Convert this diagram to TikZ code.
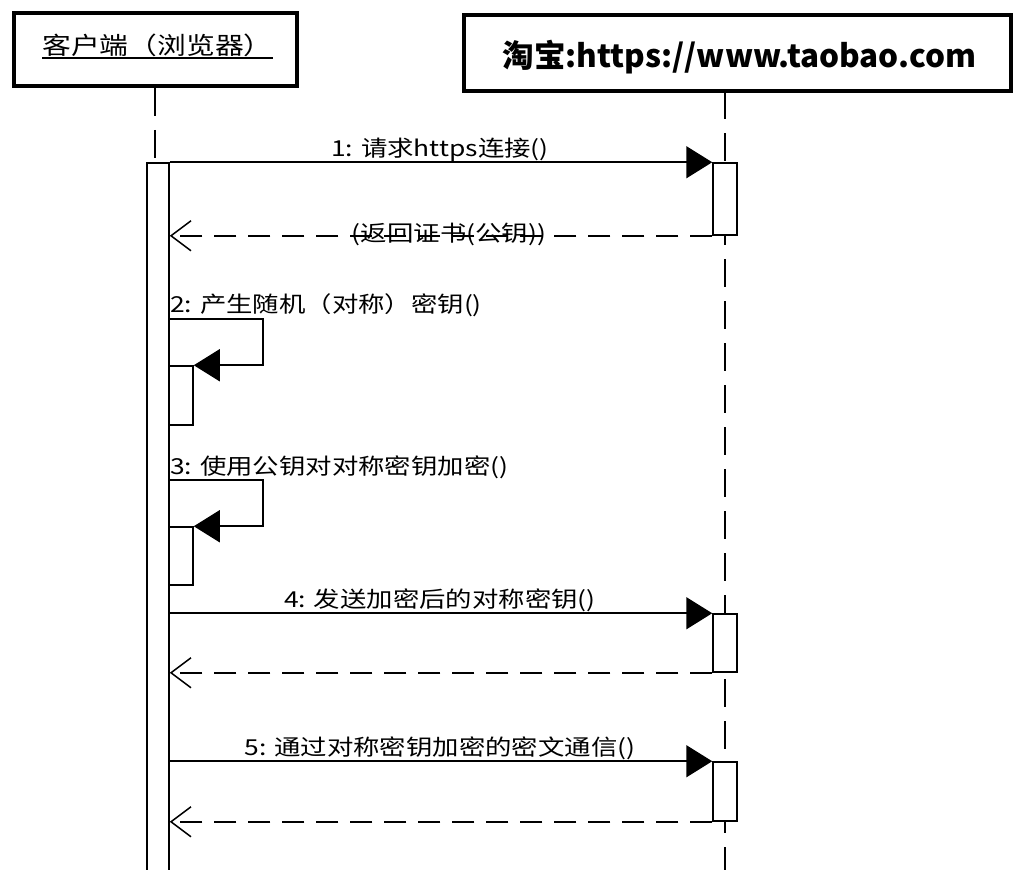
\documentclass[tikz,border=0pt]{standalone}
\usepackage{fontspec}
\usetikzlibrary{arrows.meta}
\newfontfamily\msgfont[FakeStretch=1.2]{Noto Sans CJK SC}
\newfontfamily\headfont{Noto Sans CJK SC}

\begin{document}
\begin{tikzpicture}[x=1pt,y=-1pt,every node/.style={text centered,inner sep=0pt},
  head/.style={draw,line width=3.5pt,fill=white},
  act/.style={draw,line width=1.5pt,fill=white,minimum width=24pt},
  life/.style={line width=1.5pt,dash pattern=on 28pt off 14pt},
  msg/.style={line width=1.6pt,-{Triangle[length=26pt,width=32pt]}},
  ret/.style={line width=1.5pt,dash pattern=on 22pt off 12pt,-{Straight Barb[length=20pt,width=30pt]}},
  lbl/.style={font=\msgfont\fontsize{22}{26}\selectfont}]

\useasboundingbox (0,0) rectangle (1018,870);

\node [head,minimum width=283pt,minimum height=73pt] (client) at (155.5,49.5) {};
\node [lbl,anchor=base,font=\msgfont\fontsize{24}{28}\selectfont] (clientname) at (157.5,54) {客户端（浏览器）};
\draw [line width=1.5pt] ([yshift=-4pt]clientname.base west) -- ([yshift=-4pt]clientname.base east);

\node [head,minimum width=547pt,minimum height=76pt] (server) at (737.5,53) {};
\node [anchor=base,font=\headfont\bfseries\fontsize{31.5}{36}\selectfont] (servername) at (739.5,67) {淘宝:https://www.taobao.com};

% lifelines
\coordinate (srvtop) at (725,91);
\coordinate (srvbot) at (725,875);
\draw [life] (srvtop) -- (srvbot);

\node [act,minimum width=22pt,minimum height=712pt] (clientact) at (158,519) {};
\draw [life] (client.south -| 155,0) -- (155,163);

\node [act,minimum height=72pt] (srvact1) at (725,199) {};
\node [act,minimum height=59pt] (selfact2) at (181,395.5) {};
\node [act,minimum height=58pt] (selfact3) at (181,556) {};
\node [act,minimum height=58pt] (srvact4) at (725,643) {};
\node [act,minimum height=59pt] (srvact5) at (725,791.5) {};

% 1
\node [lbl,anchor=base] (m1) at (440,156) {1: 请求https连接()};
\draw [msg] (clientact.east |- srvact1.north) -- (srvact1.north west);
\draw [ret] (srvact1.south west) -- (clientact.east |- srvact1.south);
\node [lbl] (r1) at (449,234) {(返回证书(公钥))};

% 2
\node [lbl,anchor=base west] (m2) at (170,312) {2: 产生随机（对称）密钥()};
\coordinate (loop2) at (263,319);
\draw [msg] (clientact.east |- loop2) -- (loop2) |- (selfact2.north east);

% 3
\node [lbl,anchor=base west] (m3) at (170,474) {3: 使用公钥对对称密钥加密()};
\coordinate (loop3) at (263,480);
\draw [msg] (clientact.east |- loop3) -- (loop3) |- (selfact3.north east);

% 4
\node [lbl,anchor=base] (m4) at (440,607) {4: 发送加密后的对称密钥()};
\draw [msg] (clientact.east |- srvact4.north) -- (srvact4.north west);
\draw [ret] (srvact4.south west) -- (clientact.east |- srvact4.south);

% 5
\node [lbl,anchor=base] (m5) at (440,755) {5: 通过对称密钥加密的密文通信()};
\draw [msg] (clientact.east |- srvact5.north) -- (srvact5.north west);
\draw [ret] (srvact5.south west) -- (clientact.east |- srvact5.south);

\end{tikzpicture}
\end{document}
